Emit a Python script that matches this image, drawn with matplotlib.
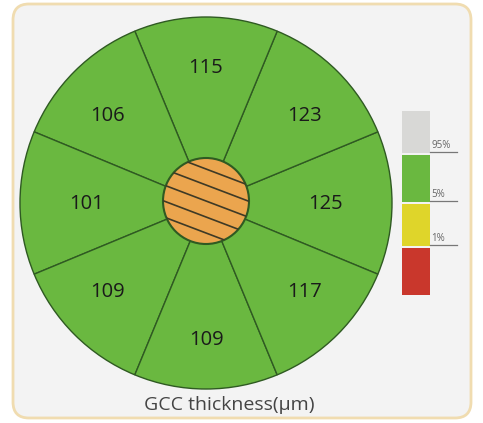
import numpy as np
import matplotlib
matplotlib.use("Agg")
import matplotlib.pyplot as plt
from matplotlib.patches import Wedge, Circle, FancyBboxPatch, Rectangle

plt.rcParams['font.family'] = ['Open Sans', 'DejaVu Sans']

# sector values, counter-clockwise starting at the right (0 deg)
sectorAngles = [0, 45, 90, 135, 180, 225, 270, 315]
sectorValues = [125, 123, 115, 106, 101, 109, 109, 117]

# normative colour scale (bottom to top)
scaleColors = ["#c9372c", "#dfd52a", "#6ab840", "#d8d8d6"]
scaleLabels = ["1%", "5%", "95%"]

title = "GCC thickness(\u03bcm)"

W, H = 483, 423
fig = plt.figure(figsize=(W / 100, H / 100), dpi=100)
ax = fig.add_axes([0, 0, 1, 1])
ax.set_xlim(0, W)
ax.set_ylim(H, 0)
ax.set_aspect("equal")
ax.axis("off")

# panel background
ax.add_patch(FancyBboxPatch((13, 4), 458, 414, boxstyle="round,pad=0,rounding_size=16",
                            facecolor="#f3f3f3", edgecolor="#f0dcb0", linewidth=2))

# Step 1: sectors
cx, cy = 206, 203
R = 186
rIn = 43
green = "#6ab840"
edge = "#2f5a22"
for ang, val in zip(sectorAngles, sectorValues):
    # y axis is inverted, so flip the angle sign
    a1 = -ang - 22.5
    a2 = -ang + 22.5
    ax.add_patch(Wedge((cx, cy), R, a1, a2, facecolor=green, edgecolor=edge, linewidth=1.0))
    if ang in (0, 180):
        labR, labA = 0.64 * R, ang
    elif ang in (90, 270):
        labR, labA = 0.73 * R, ang
    else:
        # diagonal labels sit a little closer to the horizontal
        labR = 0.71 * R
        labA = ang - 3 if ang % 180 == 45 else ang + 3
    tx = cx + labR * np.cos(np.radians(labA))
    ty = cy + 1 - labR * np.sin(np.radians(labA))
    ax.text(tx, ty, str(val), ha="center", va="center", fontsize=14.5, color="#1a1a1a")

# Step 2: hatched centre disc
disc = Circle((cx, cy - 2), rIn, facecolor="#eba54e", edgecolor=edge, linewidth=1.5, zorder=3)
ax.add_patch(disc)
for off in np.arange(-64, 65, 16):
    xs = np.array([cx - 60, cx + 60])
    ys = cy - 2 + off + 0.38 * (xs - cx)
    ln, = ax.plot(xs, ys, color="#3e3a26", linewidth=1.2, zorder=4)
    ln.set_clip_path(disc)

# Step 3: colour scale
bx, bw = 402, 28
segs = [(248, 295), (204, 246), (155, 202), (111, 153)]
for (y0, y1), col in zip(segs, scaleColors):
    ax.add_patch(Rectangle((bx, y0), bw, y1 - y0, facecolor=col, edgecolor="none"))
for (y0, y1), lab in zip(segs[1:], scaleLabels):
    ax.plot([bx + bw, 457], [y1 - 1, y1 - 1], color="#777777", linewidth=0.9)
    ax.text(bx + bw + 1, y1 - 2, lab, fontsize=7, color="#666666", ha="left", va="bottom")

# Step 4: title
ax.text(cx + 23, 405, title, ha="center", va="center", fontsize=14, color="#444444")

fig.savefig("out.png", dpi=100)
